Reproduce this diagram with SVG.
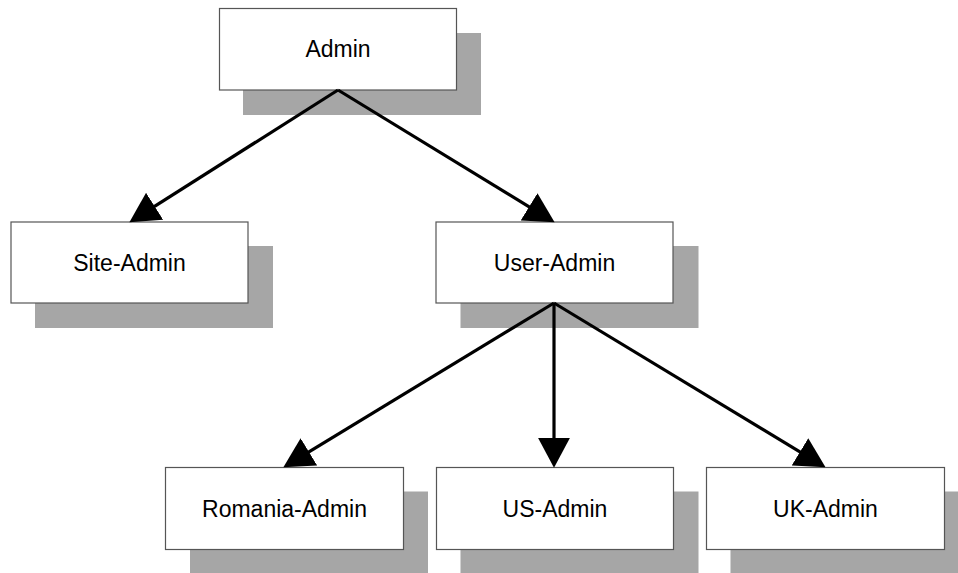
<svg xmlns="http://www.w3.org/2000/svg" width="958" height="573" viewBox="0 0 958 573">
<style>
.shadow{fill:#a6a6a6;}
.box{fill:#ffffff;stroke:#555555;stroke-width:1.2;}
.label{font-family:"Liberation Sans",Arial,sans-serif;font-size:23px;fill:#000000;text-anchor:middle;}
.edge{stroke:#000000;stroke-width:3.2;fill:none;marker-end:url(#arrow);}
</style>
<defs>
<marker id="arrow" markerUnits="userSpaceOnUse" markerWidth="30" markerHeight="32" viewBox="0 0 28 30" refX="18" refY="15" orient="auto">
<path d="M0,0 L28,15 L0,30 Z" fill="#000000"/>
</marker>
</defs>
<rect width="958" height="573" fill="#ffffff"/>
<g id="node-admin">
<rect class="shadow" x="243" y="33" width="238" height="82"/>
<rect class="box" x="219.5" y="8.5" width="237" height="81.5"/>
<text class="label" x="338" y="57">Admin</text>
</g>
<g id="node-site-admin">
<rect class="shadow" x="35" y="246" width="238" height="82"/>
<rect class="box" x="11" y="222" width="237" height="81"/>
<text class="label" x="129.5" y="271">Site-Admin</text>
</g>
<g id="node-user-admin">
<rect class="shadow" x="460.5" y="246" width="238" height="82"/>
<rect class="box" x="436" y="222" width="237" height="81"/>
<text class="label" x="554.5" y="271">User-Admin</text>
</g>
<g id="node-romania-admin">
<rect class="shadow" x="190" y="491.5" width="238" height="82"/>
<rect class="box" x="165.5" y="467.5" width="238" height="82"/>
<text class="label" x="284.5" y="516.5">Romania-Admin</text>
</g>
<g id="node-us-admin">
<rect class="shadow" x="460.5" y="491.5" width="238" height="82"/>
<rect class="box" x="436.5" y="467.5" width="237" height="82"/>
<text class="label" x="555" y="516.5">US-Admin</text>
</g>
<g id="node-uk-admin">
<rect class="shadow" x="730.5" y="491.5" width="238" height="82"/>
<rect class="box" x="706.5" y="467.5" width="238" height="82"/>
<text class="label" x="825.5" y="516.5">UK-Admin</text>
</g>
<g id="connectors">
<line class="edge" x1="338" y1="90" x2="138.4" y2="216.6"/>
<line class="edge" x1="338" y1="90" x2="545.5" y2="216.8"/>
<line class="edge" x1="554" y1="303" x2="292.5" y2="461.8"/>
<line class="edge" x1="554" y1="303" x2="554" y2="457"/>
<line class="edge" x1="554" y1="303" x2="816.4" y2="461.8"/>
</g>
</svg>
